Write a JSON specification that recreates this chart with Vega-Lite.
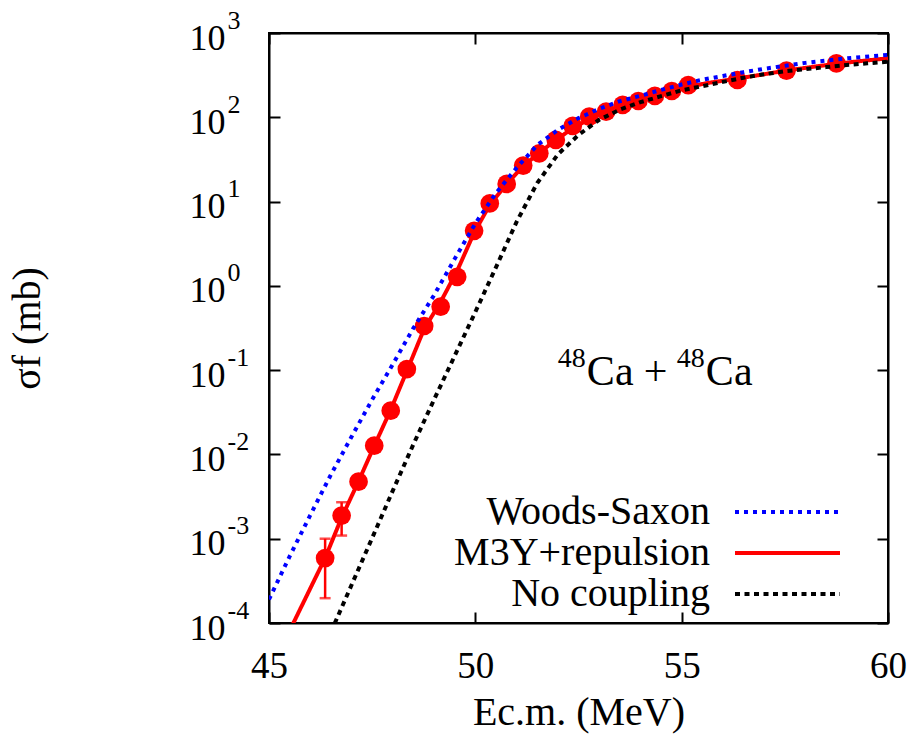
{
  "$schema": "https://vega.github.io/schema/vega-lite/v6.json",
  "width": 619,
  "height": 590,
  "autosize": "none",
  "padding": {"left": 269, "top": 33, "right": 28, "bottom": 121},
  "background": "white",
  "config": {
    "font": "Liberation Serif",
    "view": {"stroke": "black", "strokeWidth": 2},
    "axis": {
      "domainColor": "black", "domainWidth": 2,
      "tickColor": "black", "tickWidth": 2, "tickSize": -11,
      "grid": false, "labelColor": "black", "titleColor": "black",
      "labelFont": "Liberation Serif", "titleFont": "Liberation Serif",
      "titleFontWeight": "normal", "labelFlush": false
    },
    "text": {"font": "Liberation Serif", "color": "black", "baseline": "alphabetic", "align": "left"}
  },
  "datasets": {
    "expt": [
      {"E": 46.36, "sigma": 0.00059}, {"E": 46.76, "sigma": 0.00188}, {"E": 47.17, "sigma": 0.00475},
      {"E": 47.55, "sigma": 0.0127}, {"E": 47.95, "sigma": 0.033}, {"E": 48.34, "sigma": 0.103},
      {"E": 48.76, "sigma": 0.334}, {"E": 49.16, "sigma": 0.567}, {"E": 49.56, "sigma": 1.28},
      {"E": 49.97, "sigma": 4.5}, {"E": 50.35, "sigma": 9.5}, {"E": 50.76, "sigma": 16.2},
      {"E": 51.16, "sigma": 26.7}, {"E": 51.55, "sigma": 37.4}, {"E": 51.95, "sigma": 53.8},
      {"E": 52.36, "sigma": 78.9}, {"E": 52.76, "sigma": 101.6}, {"E": 53.17, "sigma": 116.6},
      {"E": 53.57, "sigma": 140}, {"E": 53.95, "sigma": 156}, {"E": 54.35, "sigma": 179},
      {"E": 54.76, "sigma": 205}, {"E": 55.16, "sigma": 241}, {"E": 56.35, "sigma": 277},
      {"E": 57.54, "sigma": 357}, {"E": 58.75, "sigma": 437}
    ],
    "errs": [
      {"E": 46.36, "lo": 0.000197, "hi": 0.001},
      {"E": 46.76, "lo": 0.00109, "hi": 0.00271}
    ],
    "curves": [
      {"model": "M3Y+repulsion", "E": 45.5, "sigma": 0.000081},
      {"model": "M3Y+repulsion", "E": 46.0, "sigma": 0.000257},
      {"model": "M3Y+repulsion", "E": 46.36, "sigma": 0.00059},
      {"model": "M3Y+repulsion", "E": 46.76, "sigma": 0.00178},
      {"model": "M3Y+repulsion", "E": 47.17, "sigma": 0.0048},
      {"model": "M3Y+repulsion", "E": 47.55, "sigma": 0.0126},
      {"model": "M3Y+repulsion", "E": 47.95, "sigma": 0.0339},
      {"model": "M3Y+repulsion", "E": 48.34, "sigma": 0.0977},
      {"model": "M3Y+repulsion", "E": 48.76, "sigma": 0.309},
      {"model": "M3Y+repulsion", "E": 49.16, "sigma": 0.646},
      {"model": "M3Y+repulsion", "E": 49.56, "sigma": 1.51},
      {"model": "M3Y+repulsion", "E": 49.97, "sigma": 4.27},
      {"model": "M3Y+repulsion", "E": 50.35, "sigma": 9.12},
      {"model": "M3Y+repulsion", "E": 50.76, "sigma": 16.2},
      {"model": "M3Y+repulsion", "E": 51.16, "sigma": 26.3},
      {"model": "M3Y+repulsion", "E": 51.55, "sigma": 38.0},
      {"model": "M3Y+repulsion", "E": 51.95, "sigma": 53.7},
      {"model": "M3Y+repulsion", "E": 52.36, "sigma": 74.1},
      {"model": "M3Y+repulsion", "E": 52.76, "sigma": 95.5},
      {"model": "M3Y+repulsion", "E": 53.17, "sigma": 117.5},
      {"model": "M3Y+repulsion", "E": 53.57, "sigma": 138},
      {"model": "M3Y+repulsion", "E": 53.95, "sigma": 158.5},
      {"model": "M3Y+repulsion", "E": 54.35, "sigma": 182},
      {"model": "M3Y+repulsion", "E": 54.76, "sigma": 204},
      {"model": "M3Y+repulsion", "E": 55.16, "sigma": 229},
      {"model": "M3Y+repulsion", "E": 55.6, "sigma": 254},
      {"model": "M3Y+repulsion", "E": 56.35, "sigma": 288},
      {"model": "M3Y+repulsion", "E": 57.0, "sigma": 324},
      {"model": "M3Y+repulsion", "E": 57.54, "sigma": 359},
      {"model": "M3Y+repulsion", "E": 58.2, "sigma": 398},
      {"model": "M3Y+repulsion", "E": 58.75, "sigma": 432},
      {"model": "M3Y+repulsion", "E": 59.4, "sigma": 468},
      {"model": "M3Y+repulsion", "E": 60.0, "sigma": 501},
      {"model": "Woods-Saxon", "E": 45.0, "sigma": 0.0001905},
      {"model": "Woods-Saxon", "E": 45.5, "sigma": 0.000617},
      {"model": "Woods-Saxon", "E": 46.0, "sigma": 0.001905},
      {"model": "Woods-Saxon", "E": 46.5, "sigma": 0.00575},
      {"model": "Woods-Saxon", "E": 47.0, "sigma": 0.0162},
      {"model": "Woods-Saxon", "E": 47.5, "sigma": 0.0447},
      {"model": "Woods-Saxon", "E": 48.0, "sigma": 0.1175},
      {"model": "Woods-Saxon", "E": 48.5, "sigma": 0.316},
      {"model": "Woods-Saxon", "E": 49.0, "sigma": 0.776},
      {"model": "Woods-Saxon", "E": 49.5, "sigma": 2.09},
      {"model": "Woods-Saxon", "E": 50.0, "sigma": 5.5},
      {"model": "Woods-Saxon", "E": 50.5, "sigma": 12.6},
      {"model": "Woods-Saxon", "E": 51.0, "sigma": 25.1},
      {"model": "Woods-Saxon", "E": 51.5, "sigma": 46.8},
      {"model": "Woods-Saxon", "E": 52.0, "sigma": 70.8},
      {"model": "Woods-Saxon", "E": 52.5, "sigma": 97.7},
      {"model": "Woods-Saxon", "E": 53.0, "sigma": 126},
      {"model": "Woods-Saxon", "E": 53.5, "sigma": 155},
      {"model": "Woods-Saxon", "E": 54.0, "sigma": 180},
      {"model": "Woods-Saxon", "E": 54.5, "sigma": 211},
      {"model": "Woods-Saxon", "E": 55.0, "sigma": 245},
      {"model": "Woods-Saxon", "E": 55.5, "sigma": 279},
      {"model": "Woods-Saxon", "E": 56.0, "sigma": 309},
      {"model": "Woods-Saxon", "E": 56.5, "sigma": 343},
      {"model": "Woods-Saxon", "E": 57.0, "sigma": 376},
      {"model": "Woods-Saxon", "E": 58.0, "sigma": 442},
      {"model": "Woods-Saxon", "E": 59.0, "sigma": 501},
      {"model": "Woods-Saxon", "E": 60.0, "sigma": 550},
      {"model": "No coupling", "E": 46.5, "sigma": 0.000078},
      {"model": "No coupling", "E": 47.0, "sigma": 0.000282},
      {"model": "No coupling", "E": 47.5, "sigma": 0.00102},
      {"model": "No coupling", "E": 48.0, "sigma": 0.00372},
      {"model": "No coupling", "E": 48.5, "sigma": 0.0132},
      {"model": "No coupling", "E": 49.0, "sigma": 0.0447},
      {"model": "No coupling", "E": 49.5, "sigma": 0.148},
      {"model": "No coupling", "E": 50.0, "sigma": 0.49},
      {"model": "No coupling", "E": 50.5, "sigma": 1.66},
      {"model": "No coupling", "E": 51.0, "sigma": 5.75},
      {"model": "No coupling", "E": 51.5, "sigma": 16.6},
      {"model": "No coupling", "E": 52.0, "sigma": 36.3},
      {"model": "No coupling", "E": 52.5, "sigma": 61.7},
      {"model": "No coupling", "E": 53.0, "sigma": 93.3},
      {"model": "No coupling", "E": 53.5, "sigma": 123},
      {"model": "No coupling", "E": 54.0, "sigma": 151},
      {"model": "No coupling", "E": 54.5, "sigma": 178},
      {"model": "No coupling", "E": 55.0, "sigma": 209},
      {"model": "No coupling", "E": 55.5, "sigma": 234},
      {"model": "No coupling", "E": 56.0, "sigma": 263},
      {"model": "No coupling", "E": 56.5, "sigma": 295},
      {"model": "No coupling", "E": 57.0, "sigma": 324},
      {"model": "No coupling", "E": 57.5, "sigma": 351},
      {"model": "No coupling", "E": 58.0, "sigma": 372},
      {"model": "No coupling", "E": 58.5, "sigma": 394},
      {"model": "No coupling", "E": 59.0, "sigma": 417},
      {"model": "No coupling", "E": 59.5, "sigma": 437},
      {"model": "No coupling", "E": 60.0, "sigma": 457}
    ],
    "note": [{"nucleus": "Ca", "mass": "48"}]
  },
  "resolve": {"axis": {"x": "independent", "y": "independent"}},
  "layer": [
    {
      "data": {"name": "expt"},
      "mark": {"type": "point", "filled": true, "shape": "circle", "size": 350, "color": "#ff0000", "opacity": 1},
      "encoding": {
        "x": {
          "field": "E", "type": "quantitative",
          "scale": {"domain": [45, 60], "nice": false, "zero": false},
          "axis": {"orient": "bottom", "values": [45, 50, 55, 60], "labelFontSize": 37, "labelPadding": 36,
                   "title": "Ec.m. (MeV)", "titleFontSize": 40, "titlePadding": 8}
        },
        "y": {
          "field": "sigma", "type": "quantitative",
          "scale": {"type": "log", "domain": [0.0001, 1000], "nice": false},
          "axis": {"orient": "left", "values": [0.0001, 0.001, 0.01, 0.1, 1, 10, 100, 1000],
                   "labelExpr": "'10'", "labelFontSize": 36, "labelPadding": 55, "labelOffset": 5,
                   "labelBaseline": "middle", "title": "σf (mb)", "titleFontSize": 40, "titlePadding": 142}
        }
      }
    },
    {
      "data": {"name": "errs"},
      "mark": {"type": "rule", "color": "#ff0000", "strokeWidth": 2.5},
      "encoding": {
        "x": {"field": "E", "type": "quantitative", "axis": null},
        "y": {"field": "lo", "type": "quantitative", "axis": null},
        "y2": {"field": "hi"}
      }
    },
    {
      "data": {"name": "errs"},
      "mark": {"type": "tick", "orient": "horizontal", "color": "#ff0000", "thickness": 2.5, "size": 11},
      "encoding": {
        "x": {"field": "E", "type": "quantitative", "axis": null},
        "y": {"field": "lo", "type": "quantitative", "axis": null}
      }
    },
    {
      "data": {"name": "errs"},
      "mark": {"type": "tick", "orient": "horizontal", "color": "#ff0000", "thickness": 2.5, "size": 11},
      "encoding": {
        "x": {"field": "E", "type": "quantitative", "axis": null},
        "y": {"field": "hi", "type": "quantitative", "axis": null}
      }
    },
    {
      "data": {"name": "curves"},
      "mark": {"type": "line", "clip": true, "strokeWidth": 4},
      "encoding": {
        "x": {"field": "E", "type": "quantitative",
              "axis": {"orient": "top", "values": [45, 50, 55, 60], "labels": false, "title": null}},
        "y": {"field": "sigma", "type": "quantitative",
              "axis": {"orient": "right", "values": [0.0001, 0.001, 0.01, 0.1, 1, 10, 100, 1000],
                       "labelExpr": "'' + round(log(datum.value) / LN10)", "labelFontSize": 26,
                       "labelAlign": "left", "labelPadding": -650, "labelOffset": -13,
                       "labelBaseline": "middle", "title": null}},
        "color": {
          "field": "model", "type": "nominal",
          "scale": {"domain": ["Woods-Saxon", "M3Y+repulsion", "No coupling"], "range": ["#0000ff", "#ff0000", "#000000"]},
          "legend": {"orient": "none", "legendX": 464, "legendY": 459, "title": null, "symbolType": "stroke",
                     "symbolSize": 11025, "symbolStrokeWidth": 4, "labelFontSize": 40, "labelFont": "Liberation Serif",
                     "labelAlign": "right", "labelOffset": -132, "rowPadding": 1, "clipHeight": 40, "padding": 0,
                     "labelLimit": 0, "labelColor": "black",
                     "encode": {"entries": {"update": {"width": {"value": 125}, "height": {"value": 40}}}}}
        },
        "strokeDash": {
          "field": "model", "type": "nominal",
          "scale": {"domain": ["Woods-Saxon", "M3Y+repulsion", "No coupling"], "range": [[4, 5], [1, 0], [5, 4.5]]},
          "legend": {"orient": "none", "legendX": 464, "legendY": 459, "title": null, "symbolType": "stroke",
                     "symbolSize": 11025, "symbolStrokeWidth": 4, "labelFontSize": 40, "labelFont": "Liberation Serif",
                     "labelAlign": "right", "labelOffset": -132, "rowPadding": 1, "clipHeight": 40, "padding": 0,
                     "labelLimit": 0, "labelColor": "black",
                     "encode": {"entries": {"update": {"width": {"value": 125}, "height": {"value": 40}}}}}
        }
      }
    },
    {
      "data": {"name": "note"},
      "mark": {"type": "text", "fontSize": 28, "dy": -18},
      "encoding": {
        "x": {"datum": 52.0, "type": "quantitative", "axis": null},
        "y": {"datum": 0.0667, "type": "quantitative", "axis": null},
        "text": {"field": "mass"}
      }
    },
    {
      "data": {"name": "note"},
      "mark": {"type": "text", "fontSize": 42, "dx": 29},
      "encoding": {
        "x": {"datum": 52.0, "type": "quantitative", "axis": null},
        "y": {"datum": 0.0667, "type": "quantitative", "axis": null},
        "text": {"field": "nucleus"}
      }
    },
    {
      "data": {"name": "note"},
      "mark": {"type": "text", "fontSize": 42, "dx": 86},
      "encoding": {
        "x": {"datum": 52.0, "type": "quantitative", "axis": null},
        "y": {"datum": 0.0667, "type": "quantitative", "axis": null},
        "text": {"value": "+"}
      }
    },
    {
      "data": {"name": "note"},
      "mark": {"type": "text", "fontSize": 28, "dx": 119, "dy": -18},
      "encoding": {
        "x": {"datum": 52.0, "type": "quantitative", "axis": null},
        "y": {"datum": 0.0667, "type": "quantitative", "axis": null},
        "text": {"field": "mass"}
      }
    },
    {
      "data": {"name": "note"},
      "mark": {"type": "text", "fontSize": 42, "dx": 148},
      "encoding": {
        "x": {"datum": 52.0, "type": "quantitative", "axis": null},
        "y": {"datum": 0.0667, "type": "quantitative", "axis": null},
        "text": {"field": "nucleus"}
      }
    }
  ]
}
